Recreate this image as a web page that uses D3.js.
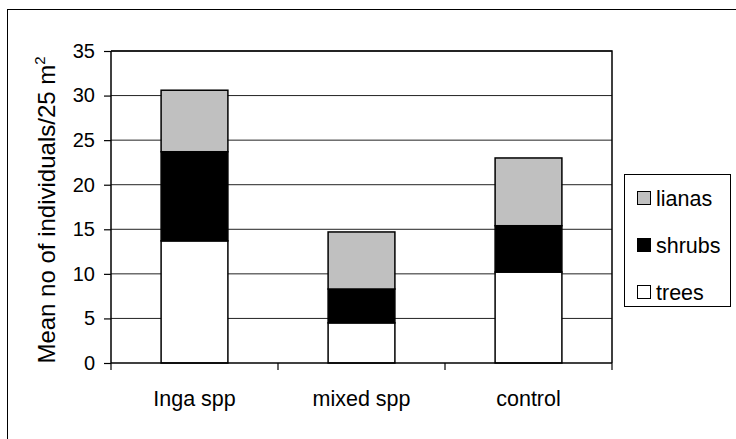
<!DOCTYPE html>
<html>
<head>
<meta charset="utf-8">
<script src="https://cdn.jsdelivr.net/npm/d3@7"></script>
<style>
  body { margin: 0; background: #fff; }
  text { font-family: "Liberation Sans", Arial, sans-serif; fill: #000; }
</style>
</head>
<body>
<div id="chart"></div>
<script>
// values
var categories = ['Inga spp', 'mixed spp', 'control'];
var trees = [13.7, 4.5, 10.2];
var shrubs = [10.0, 3.8, 5.2];
var lianas = [6.9, 6.4, 7.6];
var seriesNames = ['trees', 'shrubs', 'lianas'];
var seriesColors = { trees: '#ffffff', shrubs: '#000000', lianas: '#c0c0c0' };
var yTicks = [0, 5, 10, 15, 20, 25, 30, 35];

var width = 736, height = 439;
var plot = { left: 111, right: 612, top: 51, bottom: 363 };

var svg = d3.select('#chart').append('svg')
    .attr('width', width)
    .attr('height', height);

// outer chart frame (runs past the picture edge on right/bottom)
svg.append('rect')
    .attr('x', 7.5).attr('y', 9.5)
    .attr('width', 760).attr('height', 460)
    .attr('fill', 'none').attr('stroke', '#000').attr('stroke-width', 1);

var x = d3.scaleBand().domain(categories)
    .range([plot.left, plot.right])
    .paddingInner(0.6).paddingOuter(0.3);

var y = d3.scaleLinear().domain([0, 35]).range([plot.bottom, plot.top]);

// gridlines
svg.append('g').selectAll('line')
    .data(yTicks.slice(1))
    .enter().append('line')
    .attr('x1', plot.left).attr('x2', plot.right)
    .attr('y1', function(d) { return y(d); })
    .attr('y2', function(d) { return y(d); })
    .attr('stroke', '#222').attr('stroke-width', 1);

// plot area border top/right
svg.append('path')
    .attr('d', 'M' + plot.left + ',' + plot.top + 'H' + plot.right + 'V' + plot.bottom)
    .attr('fill', 'none').attr('stroke', '#000').attr('stroke-width', 1.5);

// stacked bars
var rows = categories.map(function(c, i) {
  return { cat: c, trees: trees[i], shrubs: shrubs[i], lianas: lianas[i] };
});
var stacked = d3.stack().keys(seriesNames)(rows);

svg.append('g').selectAll('g')
    .data(stacked)
    .enter().append('g')
    .attr('fill', function(d) { return seriesColors[d.key]; })
    .selectAll('rect')
    .data(function(d) { return d; })
    .enter().append('rect')
    .attr('x', function(d) { return x(d.data.cat); })
    .attr('y', function(d) { return y(d[1]); })
    .attr('width', x.bandwidth())
    .attr('height', function(d) { return y(d[0]) - y(d[1]); })
    .attr('stroke', '#000').attr('stroke-width', 1.5);

// y axis
var yAxis = svg.append('g')
    .attr('transform', 'translate(' + plot.left + ',0)')
    .call(d3.axisLeft(y).tickValues(yTicks).tickSize(7).tickPadding(9));
yAxis.select('.domain').remove();
yAxis.selectAll('.tick line').attr('stroke', '#000').attr('stroke-width', 1.2);
yAxis.selectAll('.tick text')
    .style('font-family', '"Liberation Sans", Arial, sans-serif')
    .style('font-size', '20px').attr('fill', '#000');
svg.append('line')
    .attr('x1', plot.left).attr('x2', plot.left)
    .attr('y1', plot.top).attr('y2', plot.bottom)
    .attr('stroke', '#000').attr('stroke-width', 1.5);

// x axis line and boundary ticks
svg.append('line')
    .attr('x1', plot.left).attr('x2', plot.right)
    .attr('y1', plot.bottom).attr('y2', plot.bottom)
    .attr('stroke', '#000').attr('stroke-width', 1.5);
var bounds = d3.range(categories.length + 1).map(function(i) { return plot.left + i * x.step(); });
svg.append('g').selectAll('line')
    .data(bounds)
    .enter().append('line')
    .attr('x1', function(d) { return d; }).attr('x2', function(d) { return d; })
    .attr('y1', plot.bottom).attr('y2', plot.bottom + 7)
    .attr('stroke', '#000').attr('stroke-width', 1.2);

svg.append('g').selectAll('text')
    .data(categories)
    .enter().append('text')
    .attr('x', function(d) { return x(d) + x.bandwidth() / 2; })
    .attr('y', 406)
    .attr('text-anchor', 'middle')
    .style('font-size', '21.5px')
    .text(function(d) { return d; });

// y axis title
var title = svg.append('text')
    .attr('transform', 'translate(55,210) rotate(-90)')
    .attr('text-anchor', 'middle')
    .style('font-size', '24px');
title.append('tspan').text('Mean no of individuals/25 m');
title.append('tspan').attr('dy', -10).style('font-size', '15px').text('2');

// legend
var legendItems = ['lianas', 'shrubs', 'trees'];
svg.append('rect')
    .attr('x', 624.5).attr('y', 174.5)
    .attr('width', 106).attr('height', 132)
    .attr('fill', '#fff').attr('stroke', '#000').attr('stroke-width', 1);

var leg = svg.append('g').selectAll('g')
    .data(legendItems)
    .enter().append('g')
    .attr('transform', function(d, i) { return 'translate(637,' + (191 + i * 47) + ')'; });
leg.append('rect')
    .attr('x', 0.5).attr('y', 0.5)
    .attr('width', 13).attr('height', 13)
    .attr('fill', function(d) { return seriesColors[d]; })
    .attr('stroke', '#000').attr('stroke-width', 1);
leg.append('text')
    .attr('x', 19).attr('y', 15)
    .style('font-size', '21.5px')
    .text(function(d) { return d; });
</script>
</body>
</html>
